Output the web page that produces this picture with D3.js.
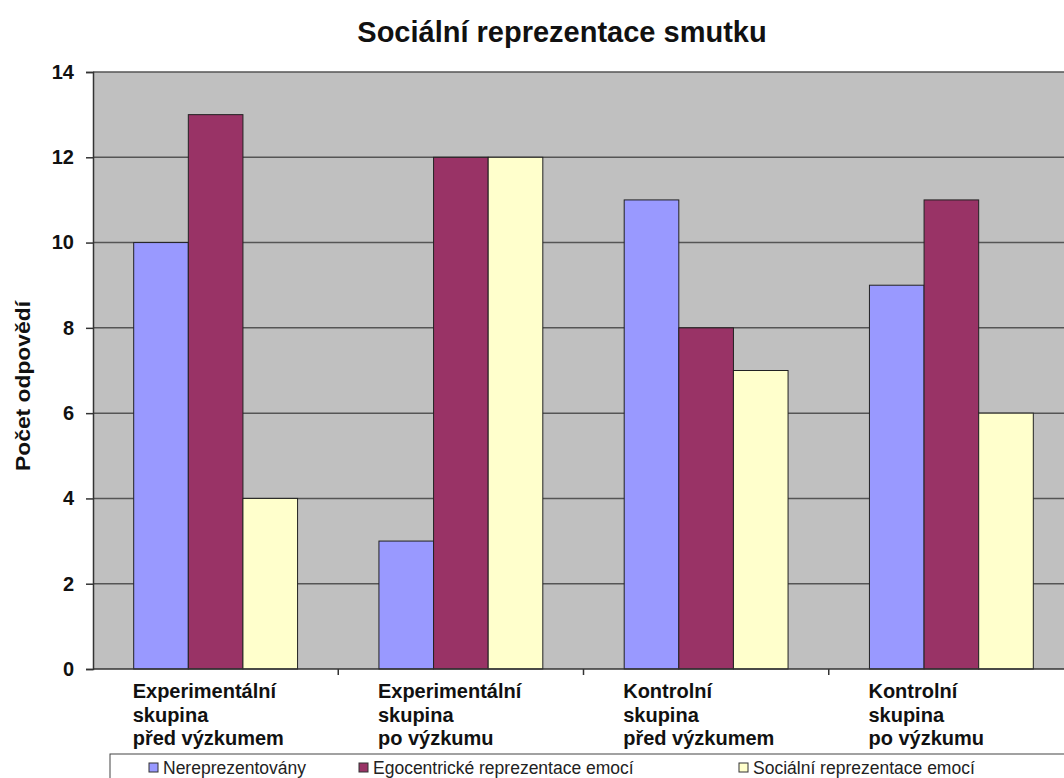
<!DOCTYPE html>
<html>
<head>
<meta charset="utf-8">
<script src="https://cdn.jsdelivr.net/npm/d3@7"></script>
<style>
  body { margin: 0; background: #fff; }
  svg { display: block; font-family: "Liberation Sans", Arial, sans-serif; }
</style>
</head>
<body>
<svg id="chart" width="1064" height="778"></svg>
<script>
var categories = [
    ["Experimentální", "skupina", "před výzkumem"],
    ["Experimentální", "skupina", "po výzkumu"],
    ["Kontrolní", "skupina", "před výzkumem"],
    ["Kontrolní", "skupina", "po výzkumu"]
];
var seriesNames = ["Nereprezentovány", "Egocentrické reprezentace emocí", "Sociální reprezentace emocí"];
var nerep = [10, 3, 11, 9];
var egocentric = [13, 12, 8, 11];
var social = [4, 12, 7, 6];
var yTicks = [0, 2, 4, 6, 8, 10, 12, 14];
var colors = ["#9999FF", "#993366", "#FFFFCC"];

var series = [nerep, egocentric, social];
var svg = d3.select("#chart");

var plotLeft = 93, plotRight = 1074, plotTop = 72, plotBottom = 669;

var x0 = d3.scaleBand().domain(d3.range(categories.length)).range([plotLeft, plotRight]).paddingInner(0).paddingOuter(0);
var x1 = d3.scaleBand().domain(d3.range(series.length)).range([0, x0.bandwidth()]).paddingOuter(0.745);
var y = d3.scaleLinear().domain([0, 14]).range([plotBottom, plotTop]);

// plot background
svg.append("rect")
    .attr("x", plotLeft).attr("y", plotTop)
    .attr("width", plotRight - plotLeft).attr("height", plotBottom - plotTop)
    .attr("fill", "#C0C0C0");

// gridlines
svg.append("g").selectAll("line")
    .data(yTicks.filter(function (d) { return d > 0; })).enter()
    .append("line")
    .attr("x1", plotLeft).attr("x2", plotRight)
    .attr("y1", function (d) { return y(d); })
    .attr("y2", function (d) { return y(d); })
    .attr("stroke", "#555").attr("stroke-width", 1.5);

// bars
var groups = svg.append("g").selectAll("g")
    .data(categories).enter()
    .append("g")
    .attr("transform", function (d, i) { return "translate(" + x0(i) + ",0)"; });

groups.selectAll("rect")
    .data(function (d, i) { return series.map(function (s, k) { return { k: k, v: s[i] }; }); })
    .enter().append("rect")
    .attr("x", function (d) { return x1(d.k); })
    .attr("width", x1.bandwidth())
    .attr("y", function (d) { return y(d.v); })
    .attr("height", function (d) { return y(0) - y(d.v); })
    .attr("fill", function (d) { return colors[d.k]; })
    .attr("stroke", "#222").attr("stroke-width", 1);

// y axis
var yAxis = svg.append("g")
    .attr("transform", "translate(" + plotLeft + ",0)")
    .call(d3.axisLeft(y).tickValues(yTicks).tickSize(7).tickPadding(12));
yAxis.select(".domain").attr("stroke", "#333").attr("stroke-width", 1.5);
yAxis.selectAll(".tick line").attr("stroke", "#333").attr("stroke-width", 1.5);
yAxis.selectAll("text")
    .attr("font-size", 20).attr("font-weight", "bold")
    .attr("fill", "#111")
    .style("font-family", "Liberation Sans, Arial, sans-serif");

// x axis line and ticks
svg.append("line")
    .attr("x1", plotLeft).attr("x2", plotRight)
    .attr("y1", plotBottom).attr("y2", plotBottom)
    .attr("stroke", "#333").attr("stroke-width", 1.5);
svg.append("g").selectAll("line")
    .data(d3.range(1, categories.length)).enter()
    .append("line")
    .attr("x1", function (d) { return x0(d); })
    .attr("x2", function (d) { return x0(d); })
    .attr("y1", plotBottom).attr("y2", plotBottom + 6)
    .attr("stroke", "#333").attr("stroke-width", 1.5);

// category labels
var catLabels = svg.append("g").selectAll("text")
    .data(categories).enter()
    .append("text")
    .attr("x", function (d, i) { return x0(i) + x1(0) - 1; })
    .attr("y", plotBottom + 29)
    .attr("font-size", 20).attr("font-weight", "bold").attr("fill", "#111");
catLabels.selectAll("tspan")
    .data(function (d) { return d; }).enter()
    .append("tspan")
    .attr("x", function () { return d3.select(this.parentNode).attr("x"); })
    .attr("dy", function (d, i) { return i === 0 ? 0 : 23.5; })
    .text(function (d) { return d; });

// title
svg.append("text")
    .attr("x", 562).attr("y", 42)
    .attr("text-anchor", "middle")
    .attr("font-size", 29).attr("font-weight", "bold").attr("fill", "#111")
    .text("Sociální reprezentace smutku");

// y axis title
svg.append("text")
    .attr("transform", "translate(30,386) rotate(-90)")
    .attr("text-anchor", "middle")
    .attr("font-size", 20).attr("font-weight", "bold").attr("fill", "#111")
    .attr("textLength", 170).attr("lengthAdjust", "spacingAndGlyphs")
    .text("Počet odpovědí");

// legend
var legend = svg.append("g");
legend.append("rect")
    .attr("x", 110).attr("y", 754)
    .attr("width", 970).attr("height", 40)
    .attr("fill", "#fff").attr("stroke", "#444").attr("stroke-width", 1);
var legendX = [149, 359, 739];
var items = legend.selectAll("g.item")
    .data(seriesNames).enter()
    .append("g")
    .attr("transform", function (d, i) { return "translate(" + legendX[i] + ",763)"; });
items.append("rect")
    .attr("width", 9).attr("height", 9)
    .attr("fill", function (d, i) { return colors[i]; })
    .attr("stroke", "#333").attr("stroke-width", 1);
items.append("text")
    .attr("x", 14).attr("y", 11)
    .attr("font-size", 17.5).attr("fill", "#222")
    .text(function (d) { return d; });
</script>
</body>
</html>
